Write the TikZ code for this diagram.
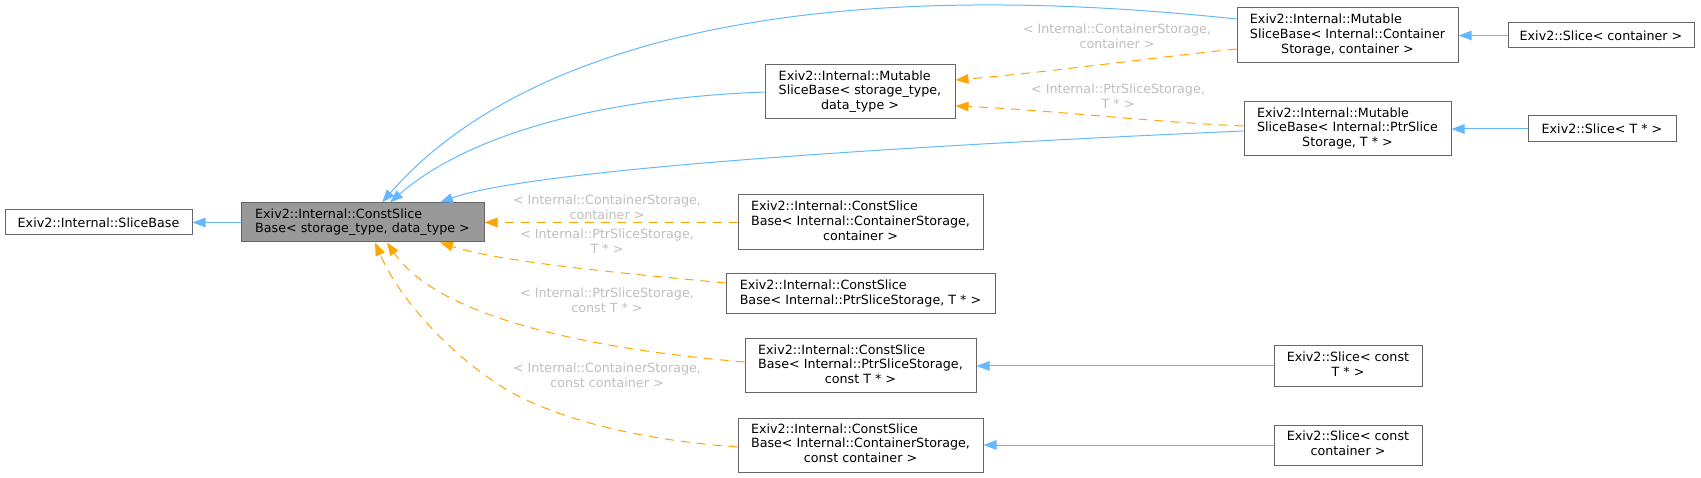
\documentclass[tikz,border=0pt]{standalone}
\usepackage{fontspec}
\setmainfont{DejaVu Sans}
\definecolor{EdgeBlue}  {HTML}{63B8FF}
\definecolor{EdgeOrange}{HTML}{FFA500}
\definecolor{NodeLine}  {HTML}{666666}
\definecolor{NodeGray}  {HTML}{999999}
\definecolor{LabelGray} {HTML}{BEBEBE}
\usetikzlibrary{arrows.meta,calc}
\newcommand\dxlines[2]{\begin{tabular}{@{}l@{}}#1\\\multicolumn{1}{@{}c@{}}{#2}\end{tabular}}

\begin{document}
\begin{tikzpicture}[x=1pt,y=-1pt,every node/.style={font=\fontsize{12.7}{14.6}\selectfont},
    cls/.style={draw=NodeLine,line width=1pt,inner sep=0pt},
    inh/.style={EdgeBlue,line width=1pt,-{Triangle[length=13pt,width=9.5pt]}},
    tmpl/.style={EdgeOrange,line width=1pt,dash pattern=on 9pt off 7pt,-{Triangle[length=13pt,width=9.5pt]}},
    tlbl/.style={text=LabelGray,align=center,inner sep=0pt}]
  \useasboundingbox (0,0) rectangle (1701,478);
  \foreach \n/\x/\y/\w/\h/\fc/\t in {
      slicebase/98.5/222.5/187/25/white/{Exiv2::Internal::SliceBase},
      constbase/362.5/222.5/243/39/NodeGray/{\dxlines{Exiv2::Internal::ConstSlice}{Base< storage\_type, data\_type >}},
      mutstore/860/92/190/54/white/{\dxlines{Exiv2::Internal::Mutable\\SliceBase< storage\_type,}{data\_type >}},
      mutcont/1347.5/35.5/221/55/white/{\dxlines{Exiv2::Internal::Mutable\\SliceBase< Internal::Container}{Storage, container >}},
      slicecont/1601/35.5/186/25/white/{Exiv2::Slice< container >},
      mutptr/1347.5/129/207/54/white/{\dxlines{Exiv2::Internal::Mutable\\SliceBase< Internal::PtrSlice}{Storage, T * >}},
      slicet/1602/129/148/26/white/{Exiv2::Slice< T * >},
      constcont/860.5/222.5/245/55/white/{\dxlines{Exiv2::Internal::ConstSlice\\Base< Internal::ContainerStorage,}{container >}},
      constptr/860.5/294/269/40/white/{\dxlines{Exiv2::Internal::ConstSlice}{Base< Internal::PtrSliceStorage, T * >}},
      constptrc/860.5/366/231/54/white/{\dxlines{Exiv2::Internal::ConstSlice\\Base< Internal::PtrSliceStorage,}{const T * >}},
      constcontc/860.5/445/245/54/white/{\dxlines{Exiv2::Internal::ConstSlice\\Base< Internal::ContainerStorage,}{const container >}},
      sliceconstt/1348/366/148/41/white/{\dxlines{Exiv2::Slice< const}{T * >}},
      sliceconstc/1348/445/148/40/white/{\dxlines{Exiv2::Slice< const}{container >}}}{
    \node[cls,fill=\fc,minimum width=\w pt,minimum height=\h pt] (\n) at (\x,\y) {\t};
  }
  \foreach \a/\b in {constbase/slicebase,slicecont/mutcont,slicet/mutptr,
                     sliceconstt/constptrc,sliceconstc/constcontc}
    \draw[inh] (\a) -- (\b);
  \draw[inh] ($(mutcont.west)+(0,-16.5)$) .. controls (700,-38) and (480,90) .. ($(constbase.north)+(19.5,0)$);
  \draw[inh] (mutstore.west) .. controls (560,100) and (450,150) .. ($(constbase.north)+(27.5,0)$);
  \draw[inh] ($(mutptr.west)+(0,2)$) .. controls (700,155) and (500,180) .. ($(constbase.north)+(77.5,0)$);
  % template instances
  \draw[tmpl] ($(mutcont.west)+(0,13.5)$) .. controls (1150,58) and (1050,72) .. ($(mutstore.east)+(0,-12)$);
  \draw[tmpl] ($(mutptr.west)+(0,-3)$) .. controls (1150,122) and (1050,110) .. ($(mutstore.east)+(0,14)$);
  \draw[tmpl] (constcont) -- (constbase);
  \draw[tmpl] ($(constptr.west)+(0,-11)$) .. controls (620,273) and (500,262) .. ($(constbase.south)+(77.5,0)$);
  \draw[tmpl] ($(constptrc.west)+(0,-4)$) .. controls (600,350) and (440,320) .. ($(constbase.south)+(24.5,0)$);
  \draw[tmpl] ($(constcontc.west)+(0,2)$) .. controls (640,440) and (560,420) .. (507,390)
              .. controls (450,355) and (400,300) .. ($(constbase.south)+(12.5,0)$);
  \node[tlbl] (lblmc)  at (1117,36)  {< Internal::ContainerStorage,\\container >};
  \node[tlbl] (lblmp)  at (1118,96)  {< Internal::PtrSliceStorage,\\T * >};
  \node[tlbl] (lblcc)  at (607,207)  {< Internal::ContainerStorage,\\container >};
  \node[tlbl] (lblcp)  at (607,241)  {< Internal::PtrSliceStorage,\\T * >};
  \node[tlbl] (lblcpc) at (607,300)  {< Internal::PtrSliceStorage,\\const T * >};
  \node[tlbl] (lblccc) at (607,375)  {< Internal::ContainerStorage,\\const container >};
\end{tikzpicture}
\end{document}
